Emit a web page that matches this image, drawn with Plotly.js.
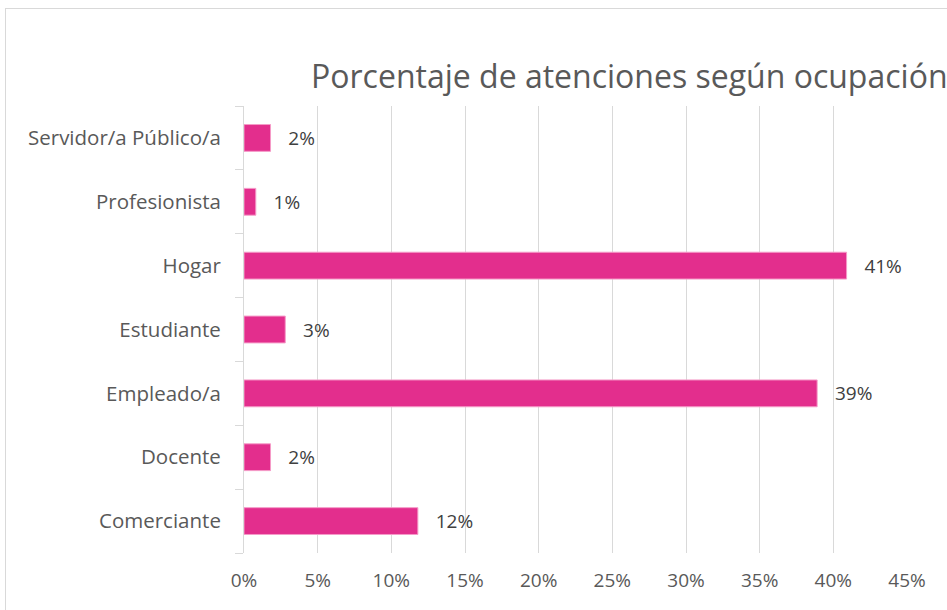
<!DOCTYPE html>
<html>
<head>
<meta charset="utf-8">
<script src="https://cdn.plot.ly/plotly-3.0.1.min.js"></script>
<style>
  html, body { margin: 0; padding: 0; background: #fff; overflow: hidden; }
  #wrap { position: relative; width: 947px; height: 610px; overflow: hidden; }
  #frame { position: absolute; left: 5px; top: 8px; width: 1000px; height: 700px; border: 1px solid #d9d9d9; box-sizing: border-box; pointer-events: none; z-index: 2; }
  #chart { position: absolute; left: 0; top: 0; width: 947px; height: 610px; }
</style>
</head>
<body>
<div id="wrap">
  <div id="chart"></div>
  <div id="frame"></div>
</div>
<script>
const categories = ["Comerciante", "Docente", "Empleado/a", "Estudiante", "Hogar", "Profesionista", "Servidor/a Público/a"];
const values = [11.8, 1.8, 38.9, 2.8, 40.9, 0.8, 1.8];
const xTickVals = [0, 5, 10, 15, 20, 25, 30, 35, 40, 45];
const xTickText = ["0%", "5%", "10%", "15%", "20%", "25%", "30%", "35%", "40%", "45%"];
const chartTitle = "Porcentaje de atenciones según ocupación";

const labels = values.map(v => "\u00a0\u00a0\u00a0" + Math.round(v) + "%");

const trace = {
  type: "bar",
  orientation: "h",
  x: values,
  y: categories,
  width: 0.42,
  marker: { color: "#E32E8D", line: { color: "#F59BC8", width: 1 } },
  text: labels,
  textposition: "outside",
  cliponaxis: false,
  textfont: { family: "Open Sans", size: 19, color: "#404040" },
  hoverinfo: "skip"
};

const layout = {
  width: 947,
  height: 610,
  margin: { l: 244, r: 40, t: 106, b: 57 },
  paper_bgcolor: "#ffffff",
  plot_bgcolor: "#ffffff",
  showlegend: false,
  title: {
    text: chartTitle,
    font: { family: "Open Sans", size: 32, color: "#595959" },
    xref: "container", yref: "container",
    x: 311 / 947, xanchor: "left",
    y: 1 - 77 / 610, yanchor: "middle"
  },
  xaxis: {
    range: [0, 45],
    tickvals: xTickVals,
    ticktext: xTickText,
    showgrid: true,
    gridcolor: "#d9d9d9",
    gridwidth: 1,
    zeroline: false,
    showline: false,
    ticks: "",
    ticklabelstandoff: 14,
    tickfont: { family: "Open Sans", size: 19, color: "#595959" },
    fixedrange: true
  },
  yaxis: {
    type: "category",
    categoryorder: "array",
    categoryarray: categories,
    showgrid: false,
    zeroline: false,
    showline: true,
    linecolor: "#d9d9d9",
    linewidth: 1,
    ticks: "outside",
    tickson: "boundaries",
    ticklen: 8,
    tickcolor: "#d9d9d9",
    ticklabelstandoff: 18,
    tickfont: { family: "Open Sans", size: 20.5, color: "#595959" },
    fixedrange: true
  },
  bargap: 0.58
};

Plotly.newPlot("chart", [trace], layout, { staticPlot: true, displayModeBar: false });
</script>
</body>
</html>
